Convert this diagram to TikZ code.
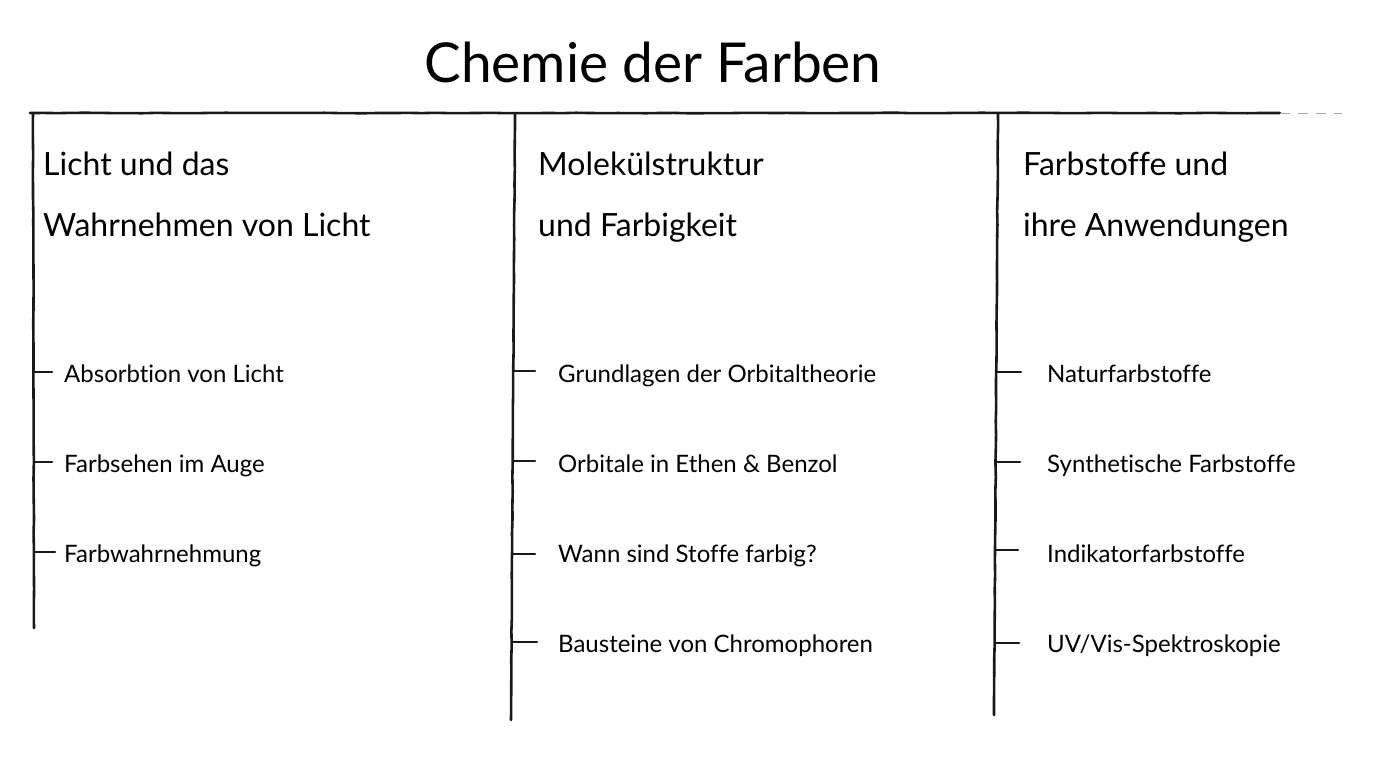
\documentclass[tikz,border=0pt]{standalone}
\usepackage{fontspec}
\setmainfont{Lato}[Ligatures=NoCommon]
\usetikzlibrary{decorations.pathmorphing}
\tikzset{
  stroke/.style={line width=2.6pt, black!90, line cap=round, decorate, decoration={random steps, segment length=14pt, amplitude=0.25pt}},
  tick/.style={line width=2.2pt, black!90, line cap=round},
  titletext/.style={font=\fontsize{55}{60}\selectfont, anchor=base},
  headtext/.style={font=\fontsize{32}{61}\selectfont, anchor=base west, align=left, inner sep=0pt},
  itemtext/.style={font=\fontsize{24}{28}\selectfont, anchor=base west, inner sep=0pt},
}
\begin{document}
\begin{tikzpicture}[x=1pt,y=-1pt]
\useasboundingbox (0,0) rectangle (1382,760);
\node[titletext] (title) at (653,82) {Chemie der Farben};
% top line
\coordinate (tl) at (30,113);
\coordinate (tm) at (1280,113);
\coordinate (tr) at (1342,113);
\draw[stroke] (tl) -- (tm);
\draw[line width=1pt, black!35, dash pattern=on 10pt off 8pt] (tm) -- (tr);
% columns
\coordinate (c1a) at (33,113);  \coordinate (c1b) at (34,628);
\coordinate (c2a) at (515,113); \coordinate (c2b) at (511,720);
\coordinate (c3a) at (998,113); \coordinate (c3b) at (994,715);
\draw[stroke] (c1a) -- (c1b);
\draw[stroke] (c2a) -- (c2b);
\draw[stroke] (c3a) -- (c3b);
% headings
\node[headtext] (h1) at (43,175) {Licht und das};
\node[headtext] (h1b) at (43,236) {Wahrnehmen von Licht};
\node[headtext] (h2) at (538,175) {Molekülstruktur};
\node[headtext] (h2b) at (538,236) {und Farbigkeit};
\node[headtext] (h3) at (1023,175) {Farbstoffe und};
\node[headtext] (h3b) at (1023,236) {ihre Anwendungen};
% items column 1
\node[itemtext] (a1) at (64,382) {Absorbtion von Licht};
\node[itemtext] (a2) at (64,472) {Farbsehen im Auge};
\node[itemtext] (a3) at (64,562) {Farbwahrnehmung};
\coordinate (t11) at (34,372); \coordinate (e11) at (52,372);
\coordinate (t12) at (34,462); \coordinate (e12) at (52,462);
\coordinate (t13) at (34,552); \coordinate (e13) at (55,552);
\draw[tick] (t11) -- (e11);
\draw[tick] (t12) -- (e12);
\draw[tick] (t13) -- (e13);
% items column 2
\node[itemtext] (b1) at (558,382) {Grundlagen der Orbitaltheorie};
\node[itemtext] (b2) at (558,472) {Orbitale in Ethen \& Benzol};
\node[itemtext] (b3) at (558,562) {Wann sind Stoffe farbig?};
\node[itemtext] (b4) at (558,652) {Bausteine von Chromophoren};
\coordinate (t21) at (514,371); \coordinate (e21) at (535,371);
\coordinate (t22) at (514,461); \coordinate (e22) at (535,461);
\coordinate (t23) at (513,554); \coordinate (e23) at (535,554);
\coordinate (t24) at (512,642); \coordinate (e24) at (537,642);
\draw[tick] (t21) -- (e21);
\draw[tick] (t22) -- (e22);
\draw[tick] (t23) -- (e23);
\draw[tick] (t24) -- (e24);
% items column 3
\node[itemtext] (c1) at (1047,382) {Naturfarbstoffe};
\node[itemtext] (c2) at (1047,472) {Synthetische Farbstoffe};
\node[itemtext] (c3) at (1047,562) {Indikatorfarbstoffe};
\node[itemtext] (c4) at (1047,652) {UV/Vis-Spektroskopie};
\coordinate (t31) at (997,372); \coordinate (e31) at (1021,372);
\coordinate (t32) at (997,462); \coordinate (e32) at (1020,462);
\coordinate (t33) at (996,550); \coordinate (e33) at (1018,550);
\coordinate (t34) at (995,643); \coordinate (e34) at (1019,643);
\draw[tick] (t31) -- (e31);
\draw[tick] (t32) -- (e32);
\draw[tick] (t33) -- (e33);
\draw[tick] (t34) -- (e34);
\end{tikzpicture}
\end{document}
